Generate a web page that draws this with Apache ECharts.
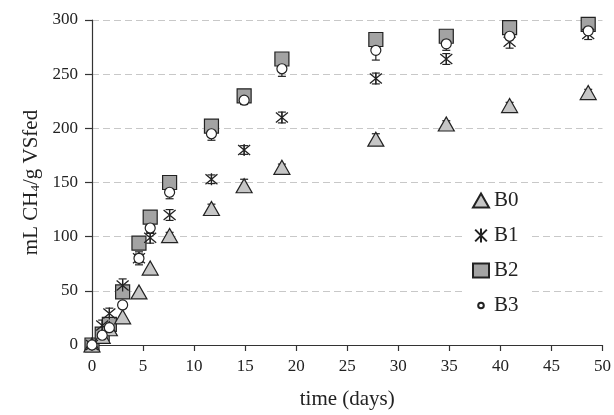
<!DOCTYPE html>
<html>
<head>
<meta charset="utf-8">
<script src="https://cdn.jsdelivr.net/npm/echarts@6/dist/echarts.min.js"></script>
<style>
  html, body { margin: 0; padding: 0; background: #fff; }
  #chart { width: 614px; height: 415px; }
</style>
</head>
<body>
<div id="chart"></div>
<script>
// sampling days (same for every batch)
var days = [0, 1, 1.7, 3, 4.6, 5.7, 7.6, 11.7, 14.9, 18.6, 27.8, 34.7, 40.9, 48.6];

// cumulative methane yield, mL CH4 / g VS fed
var b0 = [0, 8, 15, 26, 49, 71, 101, 126, 147, 164, 190, 204, 221, 233];
var b1 = [0, 18, 29, 55, 80, 99, 120, 153, 180, 210, 246, 264, 280, 287];
var b2 = [0, 10, 19, 49, 94, 118, 150, 202, 230, 264, 282, 285, 293, 296];
var b3 = [0, 9, 16, 37, 80, 108, 141, 195, 226, 255, 272, 278, 285, 290];

// standard deviations (error bars)
var b0Err = [0, 0, 0, 0, 0, 0, 3, 4, 6, 3, 5, 3, 3, 3];
var b1Err = [0, 5, 5, 6, 6, 5, 5, 4, 4, 5, 5, 5, 6, 5];
var b3Err = [0, 1, 2, 3, 4, 5, 6, 6, 4, 7, 9, 6, 3, 3];

var yTicks = [0, 50, 100, 150, 200, 250, 300];

function pairs(vals) {
  return days.map(function (d, i) { return [d, vals[i]]; });
}
function errData(vals, errs) {
  return days.map(function (d, i) { return [d, vals[i], errs[i]]; });
}

var starPath = 'path://M0,0L10,10M10,0L0,10M5,-1L5,11';
// small circle padded inside a larger box so the legend icon stays small
var smallCircle = 'path://M0,0M20,20M14,10A4,4,0,1,1,6,10A4,4,0,1,1,14,10Z';
var textColor = '#222';
var serif = 'Liberation Serif';

function errorSeries(data) {
  return {
    type: 'custom',
    silent: true,
    z: 1,
    data: data,
    renderItem: function (params, api) {
      var x = api.value(0), y = api.value(1), e = api.value(2);
      if (!e) return null;
      var top = api.coord([x, y + e]);
      var bot = api.coord([x, y - e]);
      var style = { stroke: '#222', lineWidth: 1.2 };
      return {
        type: 'group',
        children: [
          { type: 'line', shape: { x1: top[0], y1: top[1], x2: bot[0], y2: bot[1] }, style: style },
          { type: 'line', shape: { x1: top[0] - 4, y1: top[1], x2: top[0] + 4, y2: top[1] }, style: style },
          { type: 'line', shape: { x1: bot[0] - 4, y1: bot[1], x2: bot[0] + 4, y2: bot[1] }, style: style }
        ]
      };
    }
  };
}

var chart = echarts.init(document.getElementById('chart'));
var option = {
  animation: false,
  backgroundColor: '#fff',
  textStyle: { fontFamily: serif, color: textColor },
  grid: { left: 92, right: 10, top: 20, bottom: 61, containLabel: false },
  legend: {
    orient: 'vertical',
    left: 464,
    top: 186,
    itemGap: 14,
    itemWidth: 16,
    itemHeight: 14,
    padding: [4, 10, 4, 8],
    backgroundColor: '#fff',
    textStyle: { fontFamily: serif, fontSize: 21, color: textColor },
    data: ['B0', 'B1', 'B2', { name: 'B3', icon: smallCircle }]
  },
  xAxis: {
    type: 'value',
    min: 0,
    max: 50,
    interval: 5,
    name: 'time (days)',
    nameLocation: 'middle',
    nameGap: 44,
    nameTextStyle: { fontFamily: serif, fontSize: 21, color: textColor },
    axisLine: { onZero: false, lineStyle: { color: '#333', width: 1.2 } },
    axisTick: { show: true, length: 6, lineStyle: { color: '#333', width: 1.2 } },
    axisLabel: { fontFamily: serif, fontSize: 17, color: textColor, margin: 13 },
    splitLine: { show: false }
  },
  yAxis: {
    type: 'value',
    min: yTicks[0],
    max: yTicks[yTicks.length - 1],
    interval: 50,
    name: 'mL CH{sub|4}/g VSfed',
    nameLocation: 'middle',
    nameGap: 47,
    nameTextStyle: {
      fontFamily: serif, fontSize: 21, color: textColor,
      rich: { sub: { fontFamily: serif, fontSize: 13, color: textColor, verticalAlign: 'bottom', padding: [8, 0, 0, 0] } }
    },
    axisLine: { show: true, lineStyle: { color: '#333', width: 1.2 } },
    axisTick: { show: true, length: 7, lineStyle: { color: '#333', width: 1.2 } },
    axisLabel: { fontFamily: serif, fontSize: 17, color: textColor, margin: 14 },
    splitLine: { show: true, lineStyle: { color: '#c8c8c8', type: [7, 4], width: 1 } }
  },
  series: [
    errorSeries(errData(b0, b0Err)),
    errorSeries(errData(b1, b1Err)),
    errorSeries(errData(b3, b3Err)),
    {
      name: 'B2',
      type: 'scatter',
      z: 2,
      symbol: 'rect',
      symbolSize: 14,
      itemStyle: { color: '#a3a3a3', borderColor: '#222', borderWidth: 1.2, opacity: 1 },
      data: pairs(b2)
    },
    {
      name: 'B0',
      type: 'scatter',
      z: 3,
      symbol: 'triangle',
      symbolSize: [16, 14],
      itemStyle: { color: '#c6c6c6', borderColor: '#222', borderWidth: 1.2, opacity: 1 },
      data: pairs(b0)
    },
    {
      name: 'B1',
      type: 'scatter',
      z: 4,
      symbol: starPath,
      symbolSize: 12,
      itemStyle: { color: '#222', borderColor: '#222', borderWidth: 1.3, opacity: 1 },
      data: pairs(b1)
    },
    {
      name: 'B3',
      type: 'scatter',
      z: 5,
      symbol: 'circle',
      symbolSize: 10,
      itemStyle: { color: '#fff', borderColor: '#222', borderWidth: 1.2, opacity: 1 },
      data: pairs(b3)
    }
  ]
};
chart.setOption(option);
</script>
</body>
</html>
